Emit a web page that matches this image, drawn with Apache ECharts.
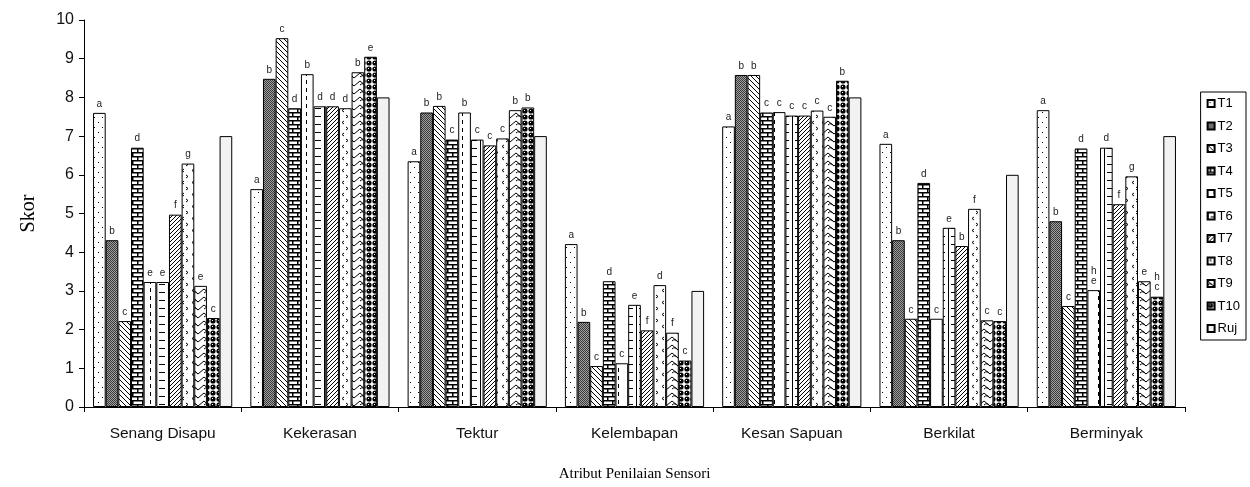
<!DOCTYPE html>
<html>
<head>
<meta charset="utf-8">
<script src="https://cdn.jsdelivr.net/npm/echarts@6/dist/echarts.min.js"></script>
<style>html,body{margin:0;padding:0;background:#fff;}#c{width:1250px;height:487px;}</style>
</head>
<body>
<div id="c"></div>
<script>
const categories = ['Senang Disapu','Kekerasan','Tektur','Kelembapan','Kesan Sapuan','Berkilat','Berminyak'];
const seriesNames = ['T1','T2','T3','T4','T5','T6','T7','T8','T9','T10','Ruj'];
const yTicks = [0,1,2,3,4,5,6,7,8,9,10];

const T1  = [7.60, 5.63, 6.35, 4.21, 7.25, 6.80, 7.67];
const T2  = [4.31, 8.48, 7.61, 2.20, 8.58, 4.31, 4.80];
const T3  = [2.22, 9.53, 7.78, 1.06, 8.58, 2.28, 2.61];
const T4  = [6.70, 7.72, 6.91, 3.25, 7.61, 5.79, 6.68];
const T5  = [3.23, 8.60, 7.61, 1.13, 7.62, 2.28, 3.02];
const T6  = [3.23, 7.77, 6.91, 2.64, 7.53, 4.63, 6.70];
const T7  = [4.97, 7.77, 6.76, 1.98, 7.53, 4.16, 5.24];
const T8  = [6.29, 7.72, 6.94, 3.15, 7.66, 5.12, 5.96];
const T9  = [3.13, 8.65, 7.67, 1.92, 7.50, 2.24, 3.25];
const T10 = [2.30, 9.05, 7.74, 1.20, 8.43, 2.22, 2.85];
const Ruj = [7, 8, 7, 3, 8, 6, 7];

const L1  = ['a','a','a','a','a','a','a'];
const L2  = ['b','b','b','b','b','b','b'];
const L3  = ['c','c','b','c','b','c','c'];
const L4  = ['d','d','c','d','c','d','d'];
const L5  = ['e','b','b','c','c','c','h\ne'];
const L6  = ['e','d','c','e','c','e','d'];
const L7  = ['f','d','c','f','c','b','f'];
const L8  = ['g','d','c','d','c','f','g'];
const L9  = ['e','b','b','f','c','c','e'];
const L10 = ['c','e','b','c','b','c','h\nc'];
const LRuj = ['','','','','','',''];

const values = [T1,T2,T3,T4,T5,T6,T7,T8,T9,T10,Ruj];
const letters = [L1,L2,L3,L4,L5,L6,L7,L8,L9,L10,LRuj];

function tile(w, h, draw) {
  const c = document.createElement('canvas');
  c.width = w; c.height = h;
  const g = c.getContext('2d');
  g.fillStyle = '#fff'; g.fillRect(0,0,w,h);
  g.fillStyle = '#000'; g.strokeStyle = '#000'; g.lineWidth = 1;
  draw(g, w, h);
  return {image: c, repeat: 'repeat'};
}
const patterns = [
  tile(8, 10, g => { g.fillRect(2,2,1,1); g.fillRect(6,7,1,1); }),
  tile(2, 2, g => { g.fillStyle='#a0a0a0'; g.fillRect(0,0,2,2); g.fillStyle='#3a3a3a'; g.fillRect(0,0,1,1); g.fillRect(1,1,1,1); }),
  tile(5, 5, g => { g.beginPath(); g.moveTo(-1,-1); g.lineTo(6,6); g.moveTo(4,-1); g.lineTo(6,1); g.moveTo(-1,4); g.lineTo(1,6); g.stroke(); }),
  tile(10, 8, g => { g.fillRect(0,0,10,1.5); g.fillRect(0,4,10,1.5); g.fillRect(2,0,1.5,4); g.fillRect(7,4,1.5,4); }),
  tile(12, 8, g => { g.fillRect(6,0,1,4); }),
  tile(12, 8, g => { g.fillRect(3,4,6,1); g.fillRect(0,0,1,8); }),
  tile(4, 4, g => { g.beginPath(); g.moveTo(0,4); g.lineTo(4,0); g.moveTo(-1,1); g.lineTo(1,-1); g.moveTo(3,5); g.lineTo(5,3); g.stroke(); }),
  tile(10, 12, g => { g.beginPath(); g.moveTo(4,1); g.lineTo(2,2.5); g.lineTo(4,4); g.moveTo(6,7); g.lineTo(8,8.5); g.lineTo(6,10); g.stroke(); }),
  tile(12, 8, g => { g.beginPath(); g.moveTo(0,1); g.lineTo(6,6); g.lineTo(12,1); g.stroke(); g.beginPath(); g.moveTo(0,5); g.quadraticCurveTo(3,2,6,6); g.stroke(); }),
  tile(6, 6, g => { g.beginPath(); g.arc(3,3,2.6,0,Math.PI*2); g.fill(); g.fillStyle='#fff'; g.fillRect(2,2,1,1); }),
  '#f2f2f2'
];

const series = seriesNames.map((name, i) => ({
  name: name,
  type: 'bar',
  data: values[i],
  barGap: '0%',
  barCategoryGap: '11.5%',
  itemStyle: { color: patterns[i], borderColor: '#000', borderWidth: 1 },
  label: {
    show: i < 10,
    position: 'top',
    distance: 4,
    fontFamily: 'Liberation Sans',
    fontSize: 10,
    lineHeight: 10,
    color: '#222',
    formatter: p => letters[i][p.dataIndex]
  },
  emphasis: { disabled: true }
}));

const chart = echarts.init(document.getElementById('c'), null, {renderer: 'canvas'});
chart.setOption({
  animation: false,
  backgroundColor: '#fff',
  grid: { left: 84, right: 65, top: 20, bottom: 72 },
  legend: {
    orient: 'vertical',
    right: 4,
    top: 92,
    icon: 'rect',
    itemWidth: 7,
    itemHeight: 7,
    itemGap: 9.5,
    padding: [5, 6, 5, 6],
    borderColor: '#000',
    borderWidth: 1,
    backgroundColor: '#fff',
    textStyle: { fontFamily: 'Liberation Sans', fontSize: 13, color: '#000', padding: [0,0,0,-2] },
    data: seriesNames
  },
  xAxis: {
    type: 'category',
    data: categories,
    name: 'Atribut Penilaian Sensori',
    nameLocation: 'middle',
    nameGap: 60,
    nameTextStyle: { fontFamily: 'Liberation Serif', fontSize: 15, color: '#000' },
    axisLine: { lineStyle: { color: '#000', width: 1 } },
    axisTick: { show: true, length: 5, lineStyle: { color: '#000' } },
    axisLabel: { fontFamily: 'Liberation Sans', fontSize: 15.5, color: '#111', margin: 19 }
  },
  yAxis: {
    type: 'value',
    min: yTicks[0],
    max: yTicks[yTicks.length - 1],
    interval: 1,
    name: 'Skor',
    nameLocation: 'middle',
    nameGap: 45,
    nameTextStyle: { fontFamily: 'Liberation Serif', fontSize: 20, color: '#000' },
    axisLine: { show: true, lineStyle: { color: '#000', width: 1 } },
    axisTick: { show: true, length: 5, lineStyle: { color: '#000' } },
    splitLine: { show: false },
    axisLabel: { fontFamily: 'Liberation Sans', fontSize: 16, color: '#111', margin: 10 }
  },
  series: series
});
</script>
</body>
</html>
